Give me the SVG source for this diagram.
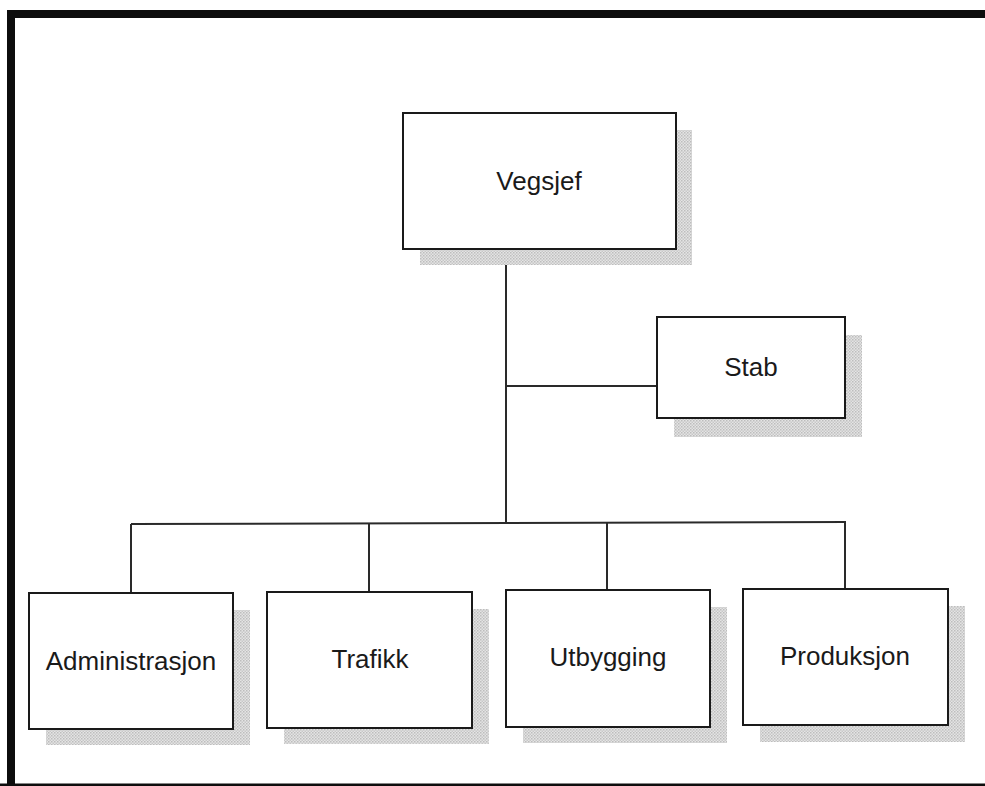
<svg xmlns="http://www.w3.org/2000/svg" width="985" height="786" viewBox="0 0 985 786">
<style>
.box{fill:#fff;stroke:#1a1a1a;stroke-width:2}
.shadow{fill:url(#dots)}
.lbl{font-family:"Liberation Sans",Arial,sans-serif;font-size:26px;fill:#1a1a1a;text-anchor:middle}
.conn{stroke:#2a2a2a;stroke-width:2;fill:none}
.frame{stroke:#0d0d0d;stroke-width:8;fill:none}
</style>
<defs>
<pattern id="dots" width="3" height="3" patternUnits="userSpaceOnUse">
<rect width="3" height="3" fill="#e4e4e4"/>
<rect width="1.5" height="1.5" fill="#bdbdbd"/>
<rect x="1.5" y="1.5" width="1.5" height="1.5" fill="#c8c8c8"/>
</pattern>
</defs>
<rect width="985" height="786" fill="#fff"/>
<path class="frame" d="M11,786 V14 H985"/>
<line x1="0" y1="785" x2="985" y2="785" stroke="#0d0d0d" stroke-width="3"/>
<g id="connectors">
<line class="conn" x1="506" y1="249" x2="506" y2="523"/>
<line class="conn" x1="506" y1="386" x2="657" y2="386"/>
<line class="conn" x1="131" y1="524" x2="846" y2="522"/>
<line class="conn" x1="131" y1="524" x2="131" y2="593"/>
<line class="conn" x1="369" y1="523" x2="369" y2="592"/>
<line class="conn" x1="607" y1="523" x2="607" y2="590"/>
<line class="conn" x1="845" y1="522" x2="845" y2="589"/>
</g>
<g id="vegsjef">
<rect class="shadow" x="420" y="130" width="272" height="135"/>
<rect class="box" x="403" y="113" width="273" height="136"/>
<text class="lbl" x="539" y="190">Vegsjef</text>
</g>
<g id="stab">
<rect class="shadow" x="674" y="335" width="188" height="102"/>
<rect class="box" x="657" y="317" width="188" height="101"/>
<text class="lbl" x="751" y="376">Stab</text>
</g>
<g id="administrasjon">
<rect class="shadow" x="46" y="610" width="204" height="135"/>
<rect class="box" x="29" y="593" width="204" height="136"/>
<text class="lbl" x="131" y="670">Administrasjon</text>
</g>
<g id="trafikk">
<rect class="shadow" x="284" y="609" width="205" height="135"/>
<rect class="box" x="267" y="592" width="205" height="136"/>
<text class="lbl" x="370" y="668">Trafikk</text>
</g>
<g id="utbygging">
<rect class="shadow" x="523" y="607" width="204" height="136"/>
<rect class="box" x="506" y="590" width="204" height="137"/>
<text class="lbl" x="608" y="666">Utbygging</text>
</g>
<g id="produksjon">
<rect class="shadow" x="760" y="606" width="205" height="136"/>
<rect class="box" x="743" y="589" width="205" height="136"/>
<text class="lbl" x="845" y="665">Produksjon</text>
</g>
</svg>
